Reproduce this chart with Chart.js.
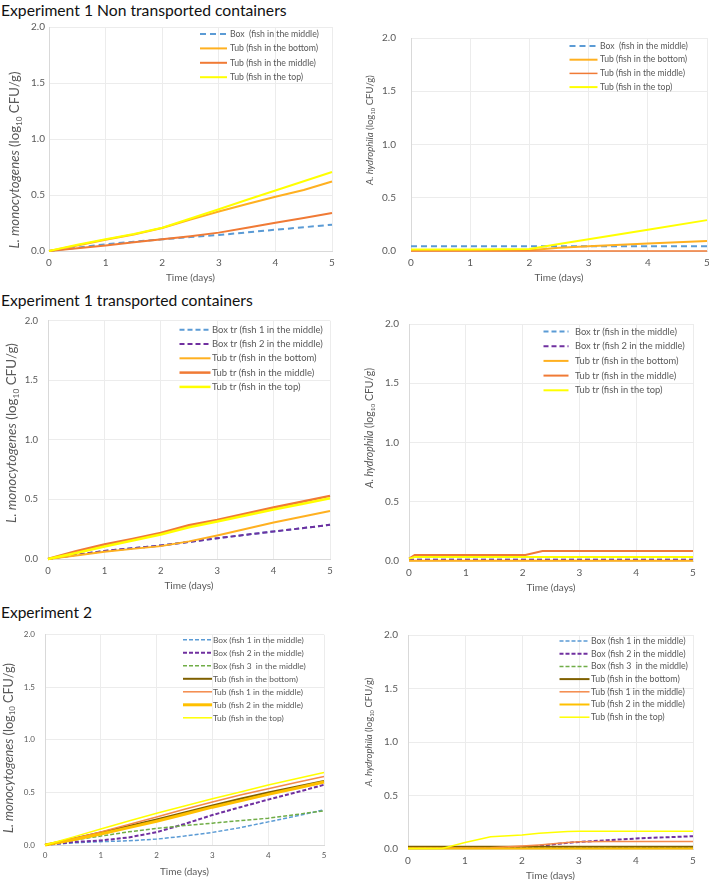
<!DOCTYPE html>
<html>
<head>
<meta charset="utf-8">
<script src="https://cdn.jsdelivr.net/npm/chart.js@4.4.1/dist/chart.umd.min.js"></script>
<style>
  html, body { margin: 0; padding: 0; background: #fff; }
  body { width: 709px; height: 880px; position: relative; overflow: hidden; font-family: Lato, "Open Sans", sans-serif; }
  .head { position: absolute; left: 1px; font-size: 16px; line-height: 20px; color: #111; white-space: nowrap; }
  canvas { position: absolute; }
</style>
</head>
<body>
<div class="head" style="top:0px" data-w="286">Experiment 1 Non transported containers</div>
<div class="head" style="top:290px" data-w="252">Experiment 1 transported containers</div>
<div class="head" style="top:602px" data-w="91">Experiment 2</div>
<canvas id="p1"></canvas>
<canvas id="p2"></canvas>
<canvas id="p3"></canvas>
<canvas id="p4"></canvas>
<canvas id="p5"></canvas>
<canvas id="p6"></canvas>
<script>
// ---- Experiment 1, non transported containers: L. monocytogenes
const e1NtLmDays = [0, 0.5, 1, 1.5, 2, 2.5, 3, 3.5, 4, 4.5, 5];
const e1NtLmBox = [0, 0.03, 0.06, 0.083, 0.104, 0.124, 0.143, 0.166, 0.19, 0.212, 0.235];
const e1NtLmTubBottom = [0, 0.05, 0.1, 0.148, 0.205, 0.28, 0.352, 0.42, 0.485, 0.545, 0.62];
const e1NtLmTubMiddle = [0, 0.025, 0.05, 0.078, 0.104, 0.132, 0.164, 0.208, 0.253, 0.295, 0.34];
const e1NtLmTubTop = [0, 0.055, 0.105, 0.152, 0.207, 0.29, 0.373, 0.457, 0.54, 0.623, 0.706];

// ---- Experiment 1, non transported containers: A. hydrophila
const e1NtAhDays = [0, 1, 2, 2.5, 3, 4, 5];
const e1NtAhBox = [0.044, 0.044, 0.044, 0.044, 0.044, 0.044, 0.044];
const e1NtAhTubBottom = [0.008, 0.008, 0.008, 0.03, 0.045, 0.07, 0.095];
const e1NtAhTubMiddle = [0, 0, 0, 0, 0, 0, 0];
const e1NtAhTubTop = [0.015, 0.015, 0.018, 0.065, 0.11, 0.2, 0.29];

// ---- Experiment 1, transported containers: L. monocytogenes
const e1TrLmDays = [0, 0.5, 1, 1.5, 2, 2.5, 3, 3.5, 4, 4.5, 5];
const e1TrLmBox1 = [0, 0.035, 0.068, 0.09, 0.114, 0.143, 0.174, 0.203, 0.231, 0.258, 0.287];
const e1TrLmBox2 = [0, 0.035, 0.068, 0.09, 0.114, 0.143, 0.174, 0.203, 0.231, 0.258, 0.287];
const e1TrLmTubBottom = [0, 0.03, 0.06, 0.085, 0.108, 0.148, 0.198, 0.252, 0.306, 0.355, 0.402];
const e1TrLmTubMiddle = [0, 0.065, 0.121, 0.168, 0.218, 0.283, 0.328, 0.38, 0.432, 0.48, 0.53];
const e1TrLmTubTop = [0, 0.05, 0.105, 0.155, 0.205, 0.266, 0.315, 0.365, 0.415, 0.462, 0.51];

// ---- Experiment 1, transported containers: A. hydrophila
const e1TrAhDays = [0, 0.1, 2.05, 2.35, 5];
const e1TrAhBox1 = [0.01, 0.01, 0.01, 0.01, 0.01];
const e1TrAhBox2 = [0.01, 0.01, 0.01, 0.01, 0.01];
const e1TrAhTubBottom = [0.003, 0.003, 0.003, 0.003, 0.003];
const e1TrAhTubMiddle = [0.02, 0.05, 0.05, 0.085, 0.085];
const e1TrAhTubTop = [0.02, 0.033, 0.033, 0.033, 0.033];

// ---- Experiment 2: L. monocytogenes
const e2LmDays = [0, 0.5, 1, 1.5, 2, 2.5, 3, 3.5, 4, 4.5, 5];
const e2LmBox1 = [0, 0.02, 0.032, 0.04, 0.056, 0.085, 0.12, 0.165, 0.22, 0.275, 0.335];
const e2LmBox2 = [0, 0.028, 0.043, 0.072, 0.122, 0.2, 0.285, 0.36, 0.432, 0.5, 0.573];
const e2LmBox3 = [0, 0.045, 0.085, 0.125, 0.158, 0.185, 0.208, 0.232, 0.255, 0.29, 0.325];
const e2LmTubBottom = [0, 0.06, 0.12, 0.18, 0.243, 0.31, 0.376, 0.44, 0.5, 0.555, 0.61];
const e2LmTub1 = [0, 0.06, 0.125, 0.195, 0.266, 0.34, 0.41, 0.475, 0.535, 0.595, 0.651];
const e2LmTub2 = [0, 0.05, 0.105, 0.165, 0.226, 0.293, 0.36, 0.42, 0.482, 0.54, 0.6];
const e2LmTubTop = [0, 0.075, 0.152, 0.228, 0.302, 0.372, 0.44, 0.505, 0.57, 0.63, 0.69];

// ---- Experiment 2: A. hydrophila
const e2AhDays = [0, 0.6, 1, 1.45, 2, 2.3, 2.8, 3, 3.5, 4, 5];
const e2AhBox1 = [0.01, 0.01, 0.01, 0.01, 0.01, 0.01, 0.01, 0.01, 0.01, 0.01, 0.01];
const e2AhBox2 = [0.012, 0.012, 0.012, 0.012, 0.013, 0.03, 0.058, 0.066, 0.082, 0.098, 0.12];
const e2AhBox3 = [0.02, 0.02, 0.02, 0.02, 0.02, 0.02, 0.02, 0.02, 0.02, 0.02, 0.02];
const e2AhTubBottom = [0.02, 0.02, 0.02, 0.02, 0.02, 0.02, 0.02, 0.02, 0.02, 0.02, 0.02];
const e2AhTub1 = [0.01, 0.01, 0.01, 0.012, 0.028, 0.038, 0.06, 0.068, 0.07, 0.07, 0.07];
const e2AhTub2 = [0.005, 0.005, 0.005, 0.005, 0.005, 0.005, 0.005, 0.005, 0.005, 0.005, 0.005];
const e2AhTubTop = [0.005, 0.005, 0.06, 0.115, 0.13, 0.148, 0.163, 0.165, 0.165, 0.165, 0.165];

const yTicks = [0, 0.5, 1, 1.5, 2];
const xTicks = [0, 1, 2, 3, 4, 5];

const BLUE = "#5B9BD5", PURPLE = "#7030A0", GREEN = "#70AD47", BROWN = "#7F6000";
const AMBER = "#FFB020", ORANGE = "#F07A35", LIGHTORANGE = "#F4894A", GOLD = "#FFC000", YELLOW = "#FFFF00";
const GREY = "#595959";
const FONT = "Lato, 'Open Sans', sans-serif";

const lmTitle = [{ text: "L. monocytogenes", italic: true }, { text: " (log" }, { text: "10", sub: true }, { text: " CFU/g)" }];
const ahTitle = [{ text: "A. hydrophila", italic: true }, { text: " (log" }, { text: "10", sub: true }, { text: " CFU/g)" }];

// titles: stretch font so the text has the width seen in the figure
document.querySelectorAll(".head").forEach(el => {
  const w = el.getBoundingClientRect().width;
  el.style.fontSize = (16 * Number(el.dataset.w) / w) + "px";
});

// legend drawn inside the plot, top right, like the Excel one
const insideLegend = {
  id: "insideLegend",
  afterDraw(chart, args, o){
    const { ctx, chartArea: a } = chart;
    const sets = chart.data.datasets;
    ctx.save();
    ctx.font = `10px ${FONT}`;
    const maxW = Math.max(...sets.map(d => ctx.measureText(d.label).width));
    const size = 10 * o.textW / maxW;
    ctx.font = `${size}px ${FONT}`;
    const textX = a.right - o.right - o.textW;
    const x1 = textX - o.gap, x0 = x1 - o.sample;
    sets.forEach((d, i) => {
      const y = a.top + o.first + i * o.step;
      ctx.strokeStyle = d.borderColor;
      ctx.lineWidth = d.borderWidth;
      ctx.setLineDash(d.borderDash || []);
      ctx.beginPath(); ctx.moveTo(x0, y); ctx.lineTo(x1, y); ctx.stroke();
      ctx.fillStyle = GREY;
      ctx.textBaseline = "middle";
      ctx.fillText(d.label, textX, y);
    });
    ctx.restore();
  }
};

// y title with italic species name and subscript 10
const richYTitle = {
  id: "richYTitle",
  afterDraw(chart, args, o){
    const { ctx } = chart;
    const font = (p, s) => `${p.italic ? "italic " : ""}${p.sub ? s * 0.62 : s}px ${FONT}`;
    const widthAt = s => o.parts.reduce((w, p) => { ctx.font = font(p, s); return w + ctx.measureText(p.text).width; }, 0);
    const size = 10 * o.length / widthAt(10);
    const total = widthAt(size);
    ctx.save();
    ctx.translate(o.x, o.y);
    ctx.rotate(-Math.PI / 2);
    ctx.fillStyle = GREY;
    ctx.textBaseline = "middle";
    let x = -total / 2;
    o.parts.forEach(p => {
      ctx.font = font(p, size);
      ctx.fillText(p.text, x, p.sub ? size * 0.3 : 0);
      x += ctx.measureText(p.text).width;
    });
    ctx.restore();
  }
};

function makePanel(id, area, cfg){
  const [L, T, R, B] = area;
  const canvas = document.getElementById(id);
  const left = L - 50, top = T - 12;
  canvas.width = R - L + 64;
  canvas.height = B - T + 52;
  canvas.style.left = left + "px";
  canvas.style.top = top + "px";

  const n = cfg.series.length;
  const datasets = cfg.series.map((s, i) => ({
    label: s.label,
    data: s.x.map((x, k) => ({ x, y: s.y[k] })),
    borderColor: s.color,
    borderWidth: s.width,
    borderDash: s.dash || [],
    pointRadius: 0,
    tension: 0,
    fill: false,
    clip: false,
    order: n - i,
  }));

  const tickFont = { family: FONT, size: cfg.tickSize };
  new Chart(canvas, {
    type: "line",
    data: { datasets },
    options: {
      responsive: false,
      animation: false,
      devicePixelRatio: 1,
      layout: { padding: { left: 0, top: 12, right: 14, bottom: 7 } },
      plugins: {
        legend: { display: false },
        tooltip: { enabled: false },
        insideLegend: cfg.legend,
        richYTitle: { parts: cfg.yTitle, x: cfg.yTitlePos[0] - left, y: cfg.yTitlePos[1] - top, length: cfg.yTitlePos[2] },
      },
      scales: {
        x: {
          type: "linear", min: 0, max: 5,
          afterBuildTicks: s => { s.ticks = xTicks.map(v => ({ value: v })); },
          afterFit: s => { s.height = 33; },
          ticks: { color: GREY, font: tickFont, padding: 6 },
          grid: { color: "#ececec", drawTicks: false },
          border: { color: "#d9d9d9" },
          title: { display: true, text: "Time (days)", color: GREY, font: { family: FONT, size: 10 }, padding: 0 },
        },
        y: {
          min: 0, max: 2,
          afterBuildTicks: s => { s.ticks = yTicks.map(v => ({ value: v })); },
          afterFit: s => { s.width = 50; },
          ticks: { color: GREY, font: tickFont, padding: cfg.tickGap, callback: v => v.toFixed(1) },
          grid: { color: "#ececec", drawTicks: false },
          border: { color: "#d9d9d9" },
        },
      },
    },
    plugins: [insideLegend, richYTitle],
  });
}

makePanel("p1", [49, 27, 332, 251], {
  tickSize: 10, tickGap: 4,
  yTitle: lmTitle, yTitlePos: [15, 160, 177],
  legend: { right: 13, textW: 89, sample: 27, gap: 3, first: 7, step: 14.4 },
  series: [
    { label: "Box  (fish in the middle)", x: e1NtLmDays, y: e1NtLmBox, color: BLUE, width: 2, dash: [6, 4] },
    { label: "Tub (fish in the bottom)", x: e1NtLmDays, y: e1NtLmTubBottom, color: AMBER, width: 2 },
    { label: "Tub (fish in the middle)", x: e1NtLmDays, y: e1NtLmTubMiddle, color: ORANGE, width: 2 },
    { label: "Tub (fish in the top)", x: e1NtLmDays, y: e1NtLmTubTop, color: YELLOW, width: 2 },
  ],
});

makePanel("p2", [411, 29, 707, 251], {
  tickSize: 10, tickGap: 15,
  yTitle: ahTitle, yTitlePos: [370, 130, 110],
  legend: { right: 19, textW: 88, sample: 28, gap: 2.5, first: 8, step: 13.7 },
  series: [
    { label: "Box  (fish in the middle)", x: e1NtAhDays, y: e1NtAhBox, color: BLUE, width: 2, dash: [6, 4] },
    { label: "Tub (fish in the bottom)", x: e1NtAhDays, y: e1NtAhTubBottom, color: AMBER, width: 2 },
    { label: "Tub (fish in the middle)", x: e1NtAhDays, y: e1NtAhTubMiddle, color: ORANGE, width: 1.5 },
    { label: "Tub (fish in the top)", x: e1NtAhDays, y: e1NtAhTubTop, color: YELLOW, width: 2 },
  ],
});

makePanel("p3", [48, 317, 330, 559], {
  tickSize: 9.5, tickGap: 10,
  yTitle: lmTitle, yTitlePos: [12, 433, 180],
  legend: { right: 7, textW: 111, sample: 31, gap: 1.5, first: 9, step: 14.3 },
  series: [
    { label: "Box tr (fish 1 in the middle)", x: e1TrLmDays, y: e1TrLmBox1, color: BLUE, width: 2, dash: [5, 3] },
    { label: "Box tr (fish 2 in the middle)", x: e1TrLmDays, y: e1TrLmBox2, color: PURPLE, width: 2, dash: [5, 3] },
    { label: "Tub tr (fish in the bottom)", x: e1TrLmDays, y: e1TrLmTubBottom, color: AMBER, width: 2 },
    { label: "Tub tr (fish in the middle)", x: e1TrLmDays, y: e1TrLmTubMiddle, color: ORANGE, width: 2.5 },
    { label: "Tub tr (fish in the top)", x: e1TrLmDays, y: e1TrLmTubTop, color: YELLOW, width: 2.5 },
  ],
});

makePanel("p4", [409, 320, 693, 561], {
  tickSize: 10, tickGap: 10,
  yTitle: ahTitle, yTitlePos: [370, 428, 120],
  legend: { right: 8, textW: 110, sample: 25, gap: 6.5, first: 7.5, step: 14.7 },
  series: [
    { label: "Box tr (fish in the middle)", x: e1TrAhDays, y: e1TrAhBox1, color: BLUE, width: 2, dash: [5, 3] },
    { label: "Box tr (fish 2 in the middle)", x: e1TrAhDays, y: e1TrAhBox2, color: PURPLE, width: 2, dash: [5, 3] },
    { label: "Tub tr (fish in the bottom)", x: e1TrAhDays, y: e1TrAhTubBottom, color: AMBER, width: 2 },
    { label: "Tub tr (fish in the middle)", x: e1TrAhDays, y: e1TrAhTubMiddle, color: ORANGE, width: 2 },
    { label: "Tub tr (fish in the top)", x: e1TrAhDays, y: e1TrAhTubTop, color: YELLOW, width: 2 },
  ],
});

makePanel("p5", [45, 632, 324, 845], {
  tickSize: 8, tickGap: 10,
  yTitle: lmTitle, yTitlePos: [9, 748, 170],
  legend: { right: 18, textW: 93, sample: 29, gap: 1, first: 5, step: 13 },
  series: [
    { label: "Box (fish 1 in the middle)", x: e2LmDays, y: e2LmBox1, color: BLUE, width: 1.5, dash: [4, 2] },
    { label: "Box (fish 2 in the middle)", x: e2LmDays, y: e2LmBox2, color: PURPLE, width: 2, dash: [4, 2] },
    { label: "Box (fish 3  in the middle)", x: e2LmDays, y: e2LmBox3, color: GREEN, width: 1.5, dash: [4, 2] },
    { label: "Tub (fish in the bottom)", x: e2LmDays, y: e2LmTubBottom, color: BROWN, width: 2 },
    { label: "Tub (fish 1 in the middle)", x: e2LmDays, y: e2LmTub1, color: LIGHTORANGE, width: 1.5 },
    { label: "Tub (fish 2 in the middle)", x: e2LmDays, y: e2LmTub2, color: GOLD, width: 3 },
    { label: "Tub (fish in the top)", x: e2LmDays, y: e2LmTubTop, color: YELLOW, width: 1.5 },
  ],
});

makePanel("p6", [408, 631, 693, 849], {
  tickSize: 10, tickGap: 10,
  yTitle: ahTitle, yTitlePos: [369, 732, 109],
  legend: { right: 5, textW: 97, sample: 30, gap: 1.5, first: 6, step: 12.7 },
  series: [
    { label: "Box (fish 1 in the middle)", x: e2AhDays, y: e2AhBox1, color: BLUE, width: 1.5, dash: [4, 2] },
    { label: "Box (fish 2 in the middle)", x: e2AhDays, y: e2AhBox2, color: PURPLE, width: 2, dash: [4, 2] },
    { label: "Box (fish 3  in the middle)", x: e2AhDays, y: e2AhBox3, color: GREEN, width: 1.5, dash: [4, 2] },
    { label: "Tub (fish in the bottom)", x: e2AhDays, y: e2AhTubBottom, color: BROWN, width: 2 },
    { label: "Tub (fish 1 in the middle)", x: e2AhDays, y: e2AhTub1, color: LIGHTORANGE, width: 1.5 },
    { label: "Tub (fish 2 in the middle)", x: e2AhDays, y: e2AhTub2, color: GOLD, width: 2 },
    { label: "Tub (fish in the top)", x: e2AhDays, y: e2AhTubTop, color: YELLOW, width: 1.5 },
  ],
});
</script>
</body>
</html>
